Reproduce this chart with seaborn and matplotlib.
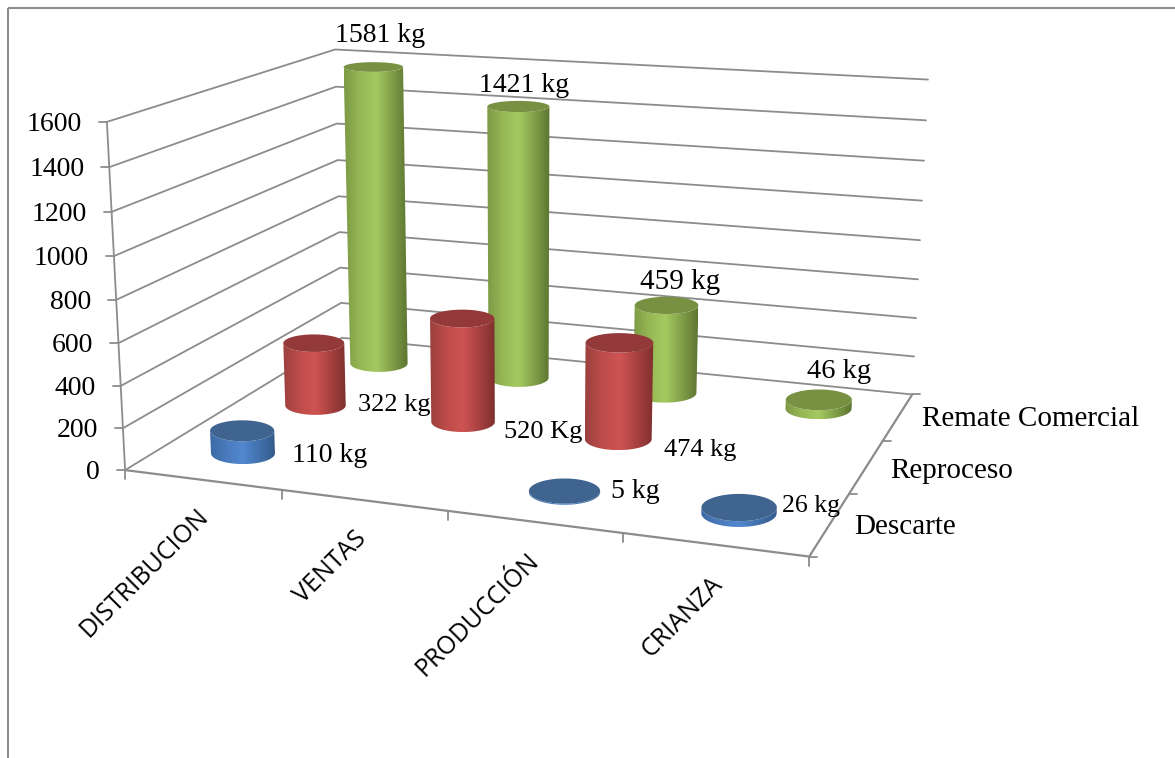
import numpy as np
import matplotlib
matplotlib.use("Agg")
import matplotlib.pyplot as plt
from matplotlib.patches import Polygon
import seaborn as sns

# Chart values (kg): one list per series, one entry per process stage
categories = ["DISTRIBUCION", "VENTAS", "PRODUCCIÓN", "CRIANZA"]
series_names = ["Descarte", "Reproceso", "Remate Comercial"]
descarte = [110, 0, 5, 26]
reproceso = [322, 520, 474, 0]
remate = [1581, 1421, 459, 46]
value_ticks = [0, 200, 400, 600, 800, 1000, 1200, 1400, 1600]
unit_overrides = {(1, 1): "Kg"}

# Camera anchors: (stage position, series depth, value share) -> canvas pixel
anchors = [
    ((0, 0, 0), (125, 469)), ((0, 0, 1), (107, 122)),
    ((0, 3, 0), (342, 339)), ((0, 3, 1), (335, 49)),
    ((4, 3, 0), (912, 393)), ((4, 3, 1), (928, 80)),
    ((4, 0, 0), (809, 557)),
    ((1, 0, 0), (282, 490)), ((2, 0, 0), (448, 511)), ((3, 0, 0), (623, 533)),
    ((4, 1, 0), (849, 495)), ((4, 2, 0), (883, 441)),
]
rows, rhs = [], []
for (X, Y, Z), (u, v) in anchors:
    rows.append([X, Y, Z, 1, 0, 0, 0, 0, -u * X, -u * Y, -u * Z])
    rows.append([0, 0, 0, 0, X, Y, Z, 1, -v * X, -v * Y, -v * Z])
    rhs += [u, v]
cam = np.append(np.linalg.lstsq(np.array(rows, float), np.array(rhs, float), rcond=None)[0], 1).reshape(3, 4)


def project(x, y, value):
    """Project stage/depth/value coordinates to canvas pixels."""
    x, y, z = np.broadcast_arrays(np.asarray(x, float), np.asarray(y, float), np.asarray(value, float) / 1600)
    world = np.stack([x, y, z, np.ones_like(x)])
    h = cam @ world.reshape(4, -1)
    return (h[0] / h[2]).reshape(x.shape), (h[1] / h[2]).reshape(x.shape)


sns.set_theme(style="white")
fig = plt.figure(figsize=(11.75, 7.58), dpi=100, facecolor="white")
ax = fig.add_axes([0, 0, 1, 1])
ax.set_xlim(0, 1175)
ax.set_ylim(758, 0)
ax.axis("off")

LINE = "#8c8c8c"
SERIF = "Liberation Serif"

# Chart frame: only the top and left edges are visible
ax.plot([8, 1175], [8, 8], color=LINE, lw=1.5, solid_capstyle="butt")
ax.plot([8, 8], [8, 758], color=LINE, lw=1.5, solid_capstyle="butt")

# Wall gridlines, running along the side wall and then the back wall
for tick in value_ticks:
    xs, ys = project([0, 0, 4], [0, 3, 3], [tick] * 3)
    ax.plot(xs, ys, color=LINE, lw=1.3, solid_joinstyle="miter", zorder=1)
    ax.plot([xs[0] - 8, xs[0]], [ys[0], ys[0]], color=LINE, lw=1.3, zorder=1)
    ax.text(xs[0] - 25, ys[0] + 2.5, str(tick), ha="right", va="center",
            family=SERIF, fontsize=20, color="black")

# Axis lines
ax.plot(*project([0, 0], [0, 0], [0, 1600]), color=LINE, lw=1.3, zorder=1)
ax.plot(*project([0, 4, 4], [0, 0, 3], [0, 0, 0]), color=LINE, lw=1.6, zorder=1)
for i in range(5):
    px, py = project(i, 0, 0)
    ax.plot([px, px], [py, py + 9], color=LINE, lw=1.3, zorder=1)
for j in range(4):
    px, py = project(4, j, 0)
    ax.plot([px, px + 8], [py, py], color=LINE, lw=1.3, zorder=1)

# Cylinder colours: (left edge, body, highlight, right edge, top cap)
shades = {
    "Descarte": ("#3d6ba6", "#4a7bbd", "#5288cf", "#335a8a", "#3e648f"),
    "Reproceso": ("#9c403e", "#bd4c4a", "#cf5452", "#7f2f2e", "#93393a"),
    "Remate Comercial": ("#7d9a45", "#96b855", "#a5c960", "#5c7530", "#789042"),
}
R_STAGE = 0.21
ANGLES = np.linspace(np.pi, 0, 90)


def cross_section(stage, depth, value):
    """Centre and semi-axes of a cylinder's circular section at a given value."""
    lx, ly = project(stage + 0.5 - R_STAGE, depth + 0.5, value)
    rx, ry = project(stage + 0.5 + R_STAGE, depth + 0.5, value)
    cx, cy = (lx + rx) / 2, (ly + ry) / 2
    a = (rx - lx) / 2
    # Sections higher on the canvas are seen at a flatter angle
    b = a * (0.16 + 0.00045 * (cy - 60))
    return float(cx), float(cy), float(a), float(b)


def side_gradient(colors, columns=120):
    """Left-to-right shading of a cylinder side as a one-row RGB image."""
    ramp = np.array(sns.blend_palette(colors[:4], 120))
    share = np.linspace(0, 1, columns)
    # Highlight sits at the middle of the visible side
    pos = np.where(share < 0.5, share / 0.5 * (2 / 3), 2 / 3 + (share - 0.5) / 0.5 * (1 / 3))
    return ramp[(pos * 119).astype(int)][np.newaxis, :, :]


def draw_cylinder(stage, depth, value, colors):
    """Draw one shaded cylinder standing on the chart floor."""
    bcx, bcy, ba, bb = cross_section(stage, depth, 0)
    tcx, tcy, ta, tb = cross_section(stage, depth, value)
    bx, by = bcx + ba * np.cos(ANGLES), bcy + bb * np.sin(ANGLES)
    tx, ty = tcx + ta * np.cos(ANGLES), tcy + tb * np.sin(ANGLES)
    outline = np.column_stack([np.r_[bx, tx[::-1]], np.r_[by, ty[::-1]]])
    left, right = outline[:, 0].min(), outline[:, 0].max()
    top, bottom = outline[:, 1].min(), outline[:, 1].max()
    shape = Polygon(outline, closed=True, transform=ax.transData, fc="none", ec="none")
    ax.add_patch(shape)
    side = ax.imshow(side_gradient(colors), extent=(left, right, bottom, top), aspect="auto",
                     interpolation="bilinear", zorder=3)
    side.set_clip_path(shape)
    theta = np.linspace(0, 2 * np.pi, 120)
    ax.fill(tcx + ta * np.cos(theta), tcy + tb * np.sin(theta), color=colors[4], lw=0, zorder=3.1)


# Rear series first so nearer cylinders overlap it
for d, name, values in [(2, series_names[2], remate), (1, series_names[1], reproceso), (0, series_names[0], descarte)]:
    for s, val in enumerate(values):
        if val > 0:
            draw_cylinder(s, d, val, shades[name])
ax.set_xlim(0, 1175)
ax.set_ylim(758, 0)

# Value labels are hand-placed beside their cylinders
label_spots = {
    (0, 2): (380, 36, 20), (1, 2): (524, 85, 20), (2, 2): (680, 282, 21),
    (3, 2): (839, 372, 20.5), (0, 1): (394, 405, 19), (1, 1): (543, 432, 19),
    (2, 1): (700, 450, 19), (0, 0): (330, 456, 20), (2, 0): (635, 491, 20),
    (3, 0): (811, 506, 18.5),
}
for d, values in enumerate([descarte, reproceso, remate]):
    for s, val in enumerate(values):
        if val > 0:
            x, y, size = label_spots[(s, d)]
            unit = unit_overrides.get((s, d), "kg")
            ax.text(x, y, f"{val} {unit}", ha="center", va="center",
                    family=SERIF, fontsize=size, color="black", zorder=5)

# Stage labels on a diagonal below the front edge
for name, (x, y) in zip(categories, [(144, 573), (331, 567), (478, 615), (682, 617)]):
    ax.text(x, y, name, rotation=45, rotation_mode="anchor", ha="center", va="center",
            family="Open Sans", fontsize=18, color="black")

# Series labels beside the depth axis
for name, (x, y) in zip(series_names, [(854, 527), (890, 471), (922, 419)]):
    ax.text(x, y, name, ha="left", va="center", family=SERIF, fontsize=21, color="black")

fig.savefig("out.png", dpi=100)
